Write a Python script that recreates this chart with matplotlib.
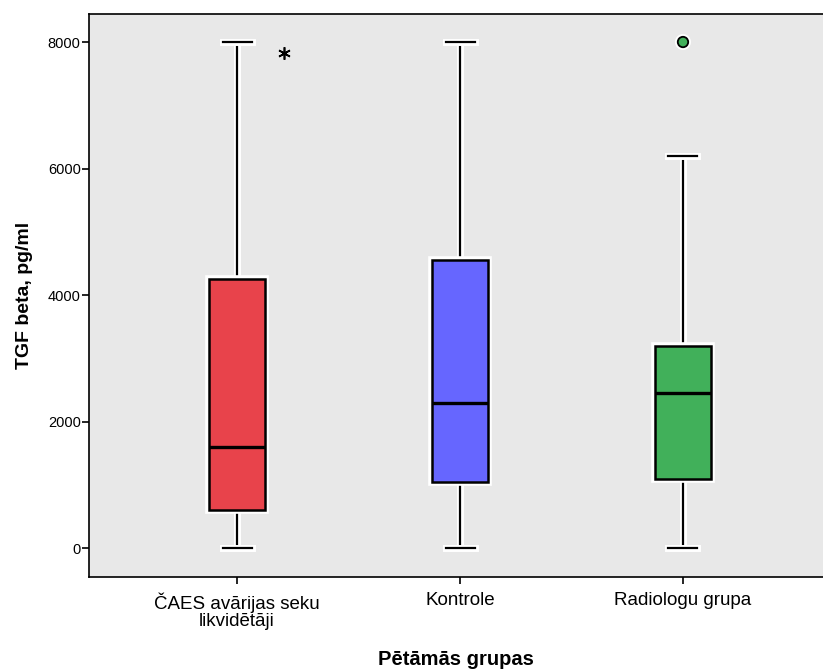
import matplotlib
matplotlib.use("Agg")
import matplotlib.pyplot as plt
import matplotlib.patheffects as pe

# data
groups = ["ČAES avārijas seku\nlikvidētāji", "Kontrole", "Radiologu grupa"]
whisker_low = [0, 0, 0]
q1 = [600, 1045, 1095]
median = [1600, 2300, 2450]
q3 = [4250, 4550, 3200]
whisker_high = [8000, 8000, 6200]
box_colors = ["#e8434b", "#6666ff", "#41b05a"]

# outliers: extreme value (*) in group 1, outlier (o) in group 3
extreme_group = 1
extreme_value = 7830
outlier_group = 3
outlier_value = 8000

plt.rcParams["font.family"] = ["Liberation Sans", "DejaVu Sans"]

fig = plt.figure(figsize=(8.23, 6.69), dpi=100)
ax = fig.add_axes([89 / 823, 92 / 669, 734 / 823, 563 / 669])
ax.set_facecolor("#e8e8e8")

halo = [pe.Stroke(linewidth=5, foreground="white"), pe.Normal()]

positions = [1, 2, 3]
stats = []
for i in range(len(groups)):
    stats.append(dict(whislo=whisker_low[i], q1=q1[i], med=median[i],
                      q3=q3[i], whishi=whisker_high[i], fliers=[]))

bp = ax.bxp(stats, positions=positions, widths=0.25, capwidths=0.13,
            patch_artist=True, showfliers=False,
            boxprops=dict(edgecolor="black", linewidth=1.8),
            whiskerprops=dict(color="black", linewidth=1.6),
            capprops=dict(color="black", linewidth=1.6),
            medianprops=dict(color="black", linewidth=2.4))

for patch, col in zip(bp["boxes"], box_colors):
    patch.set_facecolor(col)
    patch.set_path_effects([pe.Stroke(linewidth=5.5, foreground="white"),
                            pe.Normal()])
    patch.set_zorder(3)
for ln in bp["whiskers"] + bp["caps"]:
    ln.set_path_effects(halo)
    ln.set_zorder(2)
for ln in bp["medians"]:
    ln.set_zorder(4)

# extreme value drawn as asterisk slightly to the right of the box
ax.plot([extreme_group + 0.21], [extreme_value], marker=(6, 2, 0),
        color="black", markersize=9, markeredgewidth=1.2, linestyle="none",
        zorder=5)
ax.plot([outlier_group], [outlier_value], "o", color=box_colors[2],
        markeredgecolor="black", markersize=7.5, markeredgewidth=1.3,
        path_effects=[pe.Stroke(linewidth=4, foreground="white"), pe.Normal()],
        zorder=5)

ax.set_xlim(0.336, 3.628)
ax.set_ylim(-458, 8443)
ax.set_yticks([0, 2000, 4000, 6000, 8000])
ax.set_xticks(positions)
ax.set_xticklabels(groups, fontsize=13.5, linespacing=1.0)
ax.tick_params(axis="y", labelsize=10.5, length=5, width=1.2, pad=1)
ax.tick_params(axis="x", length=5, width=1.2, pad=6)

for side in ["left", "bottom", "top"]:
    ax.spines[side].set_linewidth(1.2)
ax.spines["right"].set_visible(False)

ax.set_ylabel("TGF beta, pg/ml", fontsize=14, fontweight="bold")
ax.set_xlabel("Pētāmās grupas", fontsize=14.5, fontweight="bold")
ax.yaxis.set_label_coords(-0.076, 0.5)
ax.xaxis.set_label_coords(0.5, -0.13)

plt.savefig("out.png", dpi=100)
plt.close()
